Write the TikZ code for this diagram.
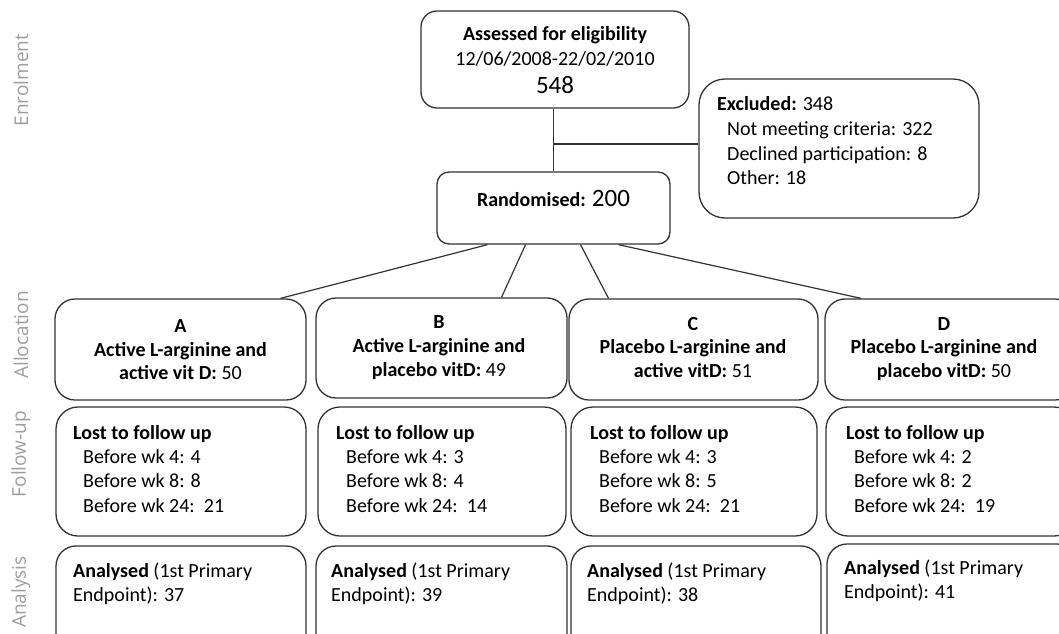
\documentclass[tikz,border=0pt]{standalone}
\usepackage{fontspec}
\setmainfont{Carlito}
\newfontfamily\sidefont{Open Sans}
\begin{document}
\begin{tikzpicture}[x=1pt,y=-1pt,
  box/.style={draw=black!80,line width=1.3pt,rounded corners=#1,inner sep=0pt,fill=white},
  box/.default=18pt,
  txt/.style={inner sep=0pt,font=\fontsize{20}{24}\selectfont},
  lft/.style={txt,anchor=base west},
  ctr/.style={txt,anchor=base},
  side/.style={inner sep=0pt,rotate=90,text=black!38,font=\sidefont\fontsize{19}{22}\selectfont},
  conn/.style={draw=black!80,line width=1.2pt}]
\clip (0,0) rectangle (1059,633);
\fill[white] (0,0) rectangle (1059,633);

% side labels
\node[side] (lenr) at (21,80) {Enrolment};
\node[side] (lall) at (21,335) {Allocation};
\node[side] (lfol) at (21,454) {Follow-up};
\node[side] (lana) at (21,592) {Analysis};

% boxes
\node[box=16pt,minimum width=268pt,minimum height=97pt] (ass) at (555,59.5) {};
\node[box=26pt,minimum width=280pt,minimum height=139pt] (excl) at (839,148.5) {};
\node[box=12pt,minimum width=233pt,minimum height=72pt] (rand) at (553.5,208) {};

\node[box=20pt,minimum width=251pt,minimum height=101pt] (A) at (180.5,349.5) {};
\node[box=20pt,minimum width=251pt,minimum height=100pt] (B) at (441.5,348) {};
\node[box=20pt,minimum width=249pt,minimum height=101pt] (C) at (693.5,349.5) {};
\node[box=20pt,minimum width=250pt,minimum height=101pt] (D) at (950,349.5) {};

\node[box=22pt,minimum width=250pt,minimum height=129pt] (fA) at (181,471.5) {};
\node[box=22pt,minimum width=248pt,minimum height=129pt] (fB) at (442,471.5) {};
\node[box=22pt,minimum width=246pt,minimum height=129pt] (fC) at (694,471.5) {};
\node[box=22pt,minimum width=250pt,minimum height=129pt] (fD) at (951,471.5) {};

\node[box=20pt,minimum width=250pt,minimum height=120pt] (nA) at (181,606) {};
\node[box=20pt,minimum width=251pt,minimum height=120pt] (nB) at (441.5,606) {};
\node[box=20pt,minimum width=250pt,minimum height=120pt] (nC) at (696,606) {};
\node[box=20pt,minimum width=250pt,minimum height=124pt] (nD) at (952,606) {};

% connectors
\coordinate (j) at (553.5,144);
\draw[conn] (ass.south -| rand.north) -- (rand.north);
\draw[conn] (j) -- (j -| excl.west);
\draw[conn] ([xshift=-66pt]rand.south) -- ([xshift=100pt]A.north);
\draw[conn] ([xshift=-28pt]rand.south) -- ([xshift=60pt]B.north);
\draw[conn] ([xshift=27pt]rand.south) -- ([xshift=-85pt]C.north);
\draw[conn] ([xshift=65pt]rand.south) -- ([xshift=-89pt]D.north);

% texts: top
\node[ctr] (t1) at (555,40) {\textbf{Assessed for eligibility}};
\node[ctr] (t2) at (555,65) {12/06/2008-22/02/2010};
\node[ctr,font=\fontsize{25}{28}\selectfont] (t3) at (555,93) {548};

\node[lft] (e1) at (717,110) {\textbf{Excluded:} 348};
\node[lft] (e2) at (727,135) {Not meeting criteria: 322};
\node[lft] (e3) at (727,160) {Declined participation: 8};
\node[lft] (e4) at (727,184) {Other: 18};

\node[ctr] (r1) at (553.5,206) {\textbf{Randomised:} {\fontsize{25}{28}\selectfont 200}};

% allocation
\node[ctr] (a1) at (180.5,332) {\textbf{A}};
\node[ctr] (a2) at (180.5,356) {\textbf{Active L-arginine and}};
\node[ctr] (a3) at (180.5,379) {\textbf{active vit D:} 50};
\node[ctr] (b1) at (439,328) {\textbf{B}};
\node[ctr] (b2) at (439,352) {\textbf{Active L-arginine and}};
\node[ctr] (b3) at (439,376) {\textbf{placebo vitD:} 49};
\node[ctr] (c1) at (693,330) {\textbf{C}};
\node[ctr] (c2) at (693,353) {\textbf{Placebo L-arginine and}};
\node[ctr] (c3) at (693,377) {\textbf{active vitD:} 51};
\node[ctr] (d1) at (944,330) {\textbf{D}};
\node[ctr] (d2) at (944,353) {\textbf{Placebo L-arginine and}};
\node[ctr] (d3) at (944,377) {\textbf{placebo vitD:} 50};

% follow-up
\node[lft] (fa1) at (73,439) {\textbf{Lost to follow up}};
\node[lft] (fa2) at (83,463) {Before wk 4: 4};
\node[lft] (fa3) at (83,487) {Before wk 8: 8};
\node[lft] (fa4) at (83,512) {Before wk 24:\ \ 21};
\node[lft] (fb1) at (336,439) {\textbf{Lost to follow up}};
\node[lft] (fb2) at (346,463) {Before wk 4: 3};
\node[lft] (fb3) at (346,487) {Before wk 8: 4};
\node[lft] (fb4) at (346,512) {Before wk 24:\ \ 14};
\node[lft] (fc1) at (590,439) {\textbf{Lost to follow up}};
\node[lft] (fc2) at (599,463) {Before wk 4: 3};
\node[lft] (fc3) at (599,487) {Before wk 8: 5};
\node[lft] (fc4) at (599,512) {Before wk 24:\ \ 21};
\node[lft] (fd1) at (846,439) {\textbf{Lost to follow up}};
\node[lft] (fd2) at (854,463) {Before wk 4: 2};
\node[lft] (fd3) at (854,487) {Before wk 8: 2};
\node[lft] (fd4) at (854,512) {Before wk 24:\ \ 19};

% analysis
\node[lft] (na1) at (73,577) {\textbf{Analysed} (1st Primary};
\node[lft] (na2) at (73,601) {Endpoint): 37};
\node[lft] (nb1) at (331,577) {\textbf{Analysed} (1st Primary};
\node[lft] (nb2) at (331,601) {Endpoint): 39};
\node[lft] (nc1) at (587,577) {\textbf{Analysed} (1st Primary};
\node[lft] (nc2) at (587,601) {Endpoint): 38};
\node[lft] (nd1) at (844,574) {\textbf{Analysed} (1st Primary};
\node[lft] (nd2) at (844,598) {Endpoint): 41};
\end{tikzpicture}
\end{document}
